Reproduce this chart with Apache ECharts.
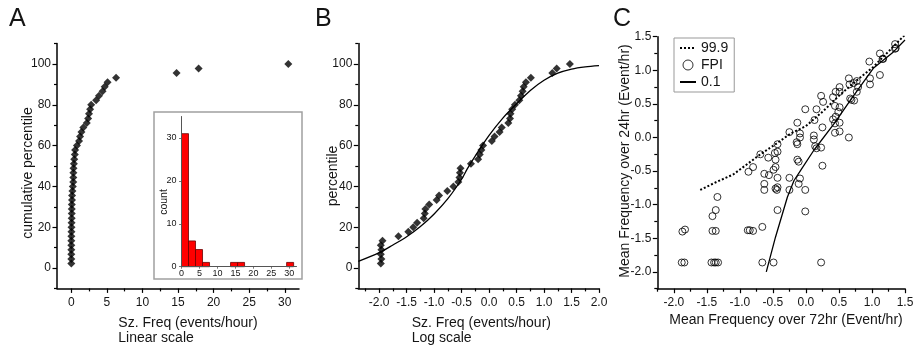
<!DOCTYPE html>
<html><head><meta charset="utf-8">
<script src="https://cdn.jsdelivr.net/npm/echarts@6/dist/echarts.min.js"></script>
<style>html,body{margin:0;padding:0;background:#fff}#c{width:917px;height:350px}</style>
</head><body><div id="c"></div>
<script>
// ---------- Panel A: cumulative percentile vs frequency (linear) ----------
const aFreq = [0.01,0.01,0.01,0.01,0.01,0.01,0.02,0.03,0.04,0.05,0.06,0.07,0.07,0.08,0.11,0.12,0.17,0.22,0.28,0.29,0.30,0.32,0.37,0.42,0.50,0.55,0.80,1.10,1.24,1.43,1.70,2.18,2.37,2.50,2.65,2.80,3.50,3.90,4.40,4.70,5.10,6.30,14.8,17.9,30.5];
const aPct  = [2.2,4.4,6.7,8.9,11.1,13.3,15.6,17.8,20.0,22.2,24.4,26.7,28.9,31.1,33.3,35.6,37.8,40.0,42.2,44.4,46.7,48.9,51.1,53.3,55.6,57.8,60.0,62.2,64.4,66.7,68.9,71.1,73.3,75.6,77.8,80.0,82.2,84.4,86.7,88.9,91.1,93.3,95.6,97.8,100.0];
// inset histogram
const binStart = [0,1.95,3.9,5.85,13.65,15.6,29.25];
const binEnd   = [1.95,3.9,5.85,7.8,15.6,17.55,31.2];
const binCount = [31,6,4,1,1,1,1];
// ---------- Panel B: percentile vs log frequency ----------
const bLogFreq = [-1.97,-1.96,-1.97,-1.96,-1.97,-1.94,-1.65,-1.47,-1.38,-1.31,-1.19,-1.17,-1.16,-1.09,-0.955,-0.91,-0.76,-0.65,-0.56,-0.54,-0.53,-0.52,-0.33,-0.20,-0.17,-0.14,-0.11,0.05,0.10,0.19,0.23,0.35,0.38,0.39,0.42,0.47,0.55,0.58,0.61,0.63,0.67,0.76,1.15,1.23,1.47];
const bPct = aPct;
const bCurveX = [-2.38,-2.0,-1.75,-1.5,-1.25,-1.0,-0.75,-0.5,-0.4,-0.25,0.0,0.25,0.5,0.75,1.0,1.25,1.5,1.75,2.0];
const bCurveY = [3.2,7.5,11.3,15.3,20.3,26.5,34.0,43.5,48.5,55.0,65.0,73.5,80.5,87.0,92.0,95.5,97.5,98.6,99.2];
// ---------- Panel C: 24 h vs 72 h mean frequency (log) ----------
const cFpiX = [-1.88,-1.84,-1.43,-1.39,-1.365,-1.33,-0.66,-0.49,0.23,
  -1.87,-1.83,-1.415,-1.365,-0.88,-0.85,-0.80,-0.66,
  -1.415,-1.365,-1.34,-0.43,-0.01,
  -0.87,-0.80,-0.69,-0.57,-0.63,-0.63,-0.63,-0.56,-0.49,-0.46,-0.46,-0.43,-0.43,-0.43,-0.46,-0.43,-0.44,-0.47,
  -0.25,-0.25,-0.13,-0.11,-0.09,-0.11,-0.01,
  -0.14,-0.13,-0.09,-0.09,-0.25,-0.13,-0.01,
  0.12,0.12,0.13,0.16,0.16,0.14,0.23,0.25,0.23,0.26,0.25,
  0.41,0.45,0.51,0.51,0.44,0.51,0.49,0.45,0.41,0.44,0.51,0.44,0.51,
  0.65,0.65,0.66,0.67,0.69,0.73,0.72,0.77,0.79,0.77,
  0.96,0.97,0.97,1.12,1.12,1.17,1.16,1.35,1.35,1.36];
const cFpiY = [-1.86,-1.86,-1.86,-1.86,-1.86,-1.86,-1.86,-1.86,-1.86,
  -1.40,-1.37,-1.39,-1.39,-1.38,-1.38,-1.39,-1.33,
  -1.17,-1.08,-0.885,-1.08,-1.10,
  -0.51,-0.44,-0.25,-0.30,-0.54,-0.69,-0.78,-0.56,-0.48,-0.44,-0.33,-0.21,-0.10,-0.60,-0.76,-0.74,-0.78,-0.23,
  -0.60,-0.78,-0.33,-0.36,-0.61,-0.69,-0.78,
  -0.07,-0.10,0.0,0.06,0.08,0.22,0.42,
  0.03,-0.03,0.26,0.42,-0.16,-0.13,-0.15,-0.42,0.62,0.53,0.15,
  0.60,0.68,0.75,0.68,0.47,0.45,0.38,0.31,0.27,0.21,0.22,0.07,0.09,
  0.0,0.88,0.79,0.58,0.56,0.55,0.81,0.84,0.75,0.68,
  1.13,0.88,0.79,1.25,0.93,1.17,1.17,1.39,1.32,1.33];
const c999X = [-1.6,-1.35,-1.1,-0.88,-0.69,-0.46,-0.23,0.0,0.27,0.51,0.77,1.02,1.32,1.5];
const c999Y = [-0.78,-0.66,-0.55,-0.39,-0.25,-0.10,0.06,0.17,0.40,0.63,0.85,1.05,1.35,1.53];
const c01X = [-0.6,-0.46,-0.28,-0.18,-0.08,0.12,0.43,0.69,1.02,1.32,1.5];
const c01Y = [-2.0,-1.48,-0.885,-0.64,-0.49,-0.19,0.21,0.58,1.03,1.27,1.45];
// tick labels
const aXLabels = [0,5,10,15,20,25,30];
const pctLabels = [0,20,40,60,80,100];
const logLabelsB = [-2.0,-1.5,-1.0,-0.5,0.0,0.5,1.0,1.5,2.0];
const logLabelsC = [-2.0,-1.5,-1.0,-0.5,0.0,0.5,1.0,1.5];
const insetXLabels = [0,5,10,15,20,25,30];
const insetYLabels = [0,10,20,30];

const FONT = '"Liberation Sans", Arial, Helvetica, sans-serif';
const TXT = '#151515';

function axis(o) {
  return {
    type: 'value', gridIndex: o.grid, min: o.min, max: o.max, position: o.pos,
    axisLine: {show: o.line !== false, onZero: false, lineStyle: {color: o.lc || '#000', width: o.lw || 1.5}},
    axisTick: {show: true, inside: false, length: o.tl || 4.5, customValues: o.ticks,
      lineStyle: {color: o.lc || '#000', width: o.tw || 1.2}},
    axisLabel: {show: !!o.labels, customValues: o.labels, formatter: o.fmt, margin: o.margin || 6,
      fontSize: o.fs || 12, fontFamily: FONT, color: TXT},
    splitLine: {show: false}, z: o.z || 0
  };
}
const fmt1 = v => Number(v).toFixed(1);
const fmt0 = v => String(Math.round(v));
function range(a, b, s) { const r = []; for (let v = a; v <= b + 1e-9; v += s) r.push(+v.toFixed(4)); return r; }

const xAxes = [
  axis({grid:0, min:-2, max:32, pos:'bottom', ticks:aXLabels, labels:aXLabels, fmt:fmt0, margin:8}),
  axis({grid:0, min:-2, max:32, pos:'bottom', line:false, ticks:range(2.5,27.5,5), tl:3}),
  axis({grid:1, min:0, max:32, pos:'bottom', lc:'#555', lw:1, tw:0.8, tl:2, ticks:insetXLabels, labels:insetXLabels, fmt:fmt0, margin:2, fs:9, z:5}),
  axis({grid:2, min:-2.38, max:2.0, pos:'bottom', ticks:logLabelsB, labels:logLabelsB, fmt:fmt1, margin:8}),
  axis({grid:2, min:-2.38, max:2.0, pos:'bottom', line:false, ticks:range(-2.25,1.75,0.5), tl:3}),
  axis({grid:3, min:-2.25, max:1.5, pos:'bottom', ticks:logLabelsC, labels:logLabelsC, fmt:fmt1, margin:8}),
  axis({grid:3, min:-2.25, max:1.5, pos:'bottom', line:false, ticks:range(-2.25,1.25,0.5), tl:3})
];
const yAxes = [
  axis({grid:0, min:-10, max:110, pos:'left', ticks:pctLabels, labels:pctLabels, fmt:fmt0, margin:6}),
  axis({grid:0, min:-10, max:110, pos:'left', line:false, ticks:[-10,10,30,50,70,90,110], tl:3}),
  axis({grid:1, min:0, max:35, pos:'left', lc:'#555', lw:1, tw:0.8, tl:2.5, ticks:insetYLabels, labels:insetYLabels, fmt:fmt0, margin:5, fs:9, z:5}),
  axis({grid:2, min:-10, max:110, pos:'left', ticks:pctLabels, labels:pctLabels, fmt:fmt0, margin:6}),
  axis({grid:2, min:-10, max:110, pos:'left', line:false, ticks:[-10,10,30,50,70,90,110], tl:3}),
  axis({grid:3, min:-2.25, max:1.5, pos:'left', ticks:logLabelsC, labels:logLabelsC, fmt:fmt1, margin:6}),
  axis({grid:3, min:-2.25, max:1.5, pos:'left', line:false, ticks:range(-2.25,1.25,0.5), tl:3})
];

const zip = (a, b) => a.map((v, i) => [v, b[i]]);
const noSym = {color:'rgba(0,0,0,0)', borderColor:'rgba(0,0,0,0)', borderWidth:0, opacity:0};

const option = {
  backgroundColor: '#fff',
  animation: false,
  grid: [
    {left: 57, top: 43.6, width: 242, height: 244.8},
    {left: 181.5, top: 116.5, width: 115, height: 150.2},
    {left: 358.3, top: 43.6, width: 240.7, height: 244.8},
    {left: 657.3, top: 36.7, width: 247.7, height: 252}
  ],
  xAxis: xAxes,
  yAxis: yAxes,
  legend: {
    left: 674, top: 38, orient: 'vertical', borderColor: '#999', borderWidth: 1,
    padding: [3, 6, 3, 5], itemWidth: 16, itemHeight: 10, itemGap: 3,
    textStyle: {fontSize: 14, fontFamily: FONT, color: TXT},
    data: [
      {name:'99.9', itemStyle: noSym},
      {name:'FPI', itemStyle: {color:'rgba(255,255,255,0)', borderColor:'#000', borderWidth:1}},
      {name:'0.1', itemStyle: noSym}
    ]
  },
  graphic: [
    {type:'rect', shape:{x:154, y:112, width:148, height:167}, style:{fill:'rgba(0,0,0,0)', stroke:'#a0a0a0', lineWidth:1.5}, z:1},
    {type:'text', left:9, top:7, style:{text:'A', font:'25px ' + FONT, fill:TXT}},
    {type:'text', left:315, top:7, style:{text:'B', font:'25px ' + FONT, fill:TXT}},
    {type:'text', left:613, top:7, style:{text:'C', font:'25px ' + FONT, fill:TXT}},
    {type:'text', x:28.3, y:173, rotation:Math.PI/2, style:{text:'cumulative percentile', font:'14px ' + FONT, fill:TXT, align:'center', verticalAlign:'middle'}},
    {type:'text', x:164, y:202, rotation:Math.PI/2, style:{text:'count', font:'10.5px ' + FONT, fill:TXT, align:'center', verticalAlign:'middle'}, z:6},
    {type:'text', x:118.3, y:322.7, style:{text:'Sz. Freq (events/hour)', font:'14px ' + FONT, fill:TXT, align:'left', verticalAlign:'middle'}},
    {type:'text', x:118.3, y:337.7, style:{text:'Linear scale', font:'14px ' + FONT, fill:TXT, align:'left', verticalAlign:'middle'}},
    {type:'text', x:333.3, y:176, rotation:Math.PI/2, style:{text:'percentile', font:'14px ' + FONT, fill:TXT, align:'center', verticalAlign:'middle'}},
    {type:'text', x:411.7, y:322.7, style:{text:'Sz. Freq (events/hour)', font:'14px ' + FONT, fill:TXT, align:'left', verticalAlign:'middle'}},
    {type:'text', x:411.7, y:337.7, style:{text:'Log scale', font:'14px ' + FONT, fill:TXT, align:'left', verticalAlign:'middle'}},
    {type:'text', x:625.5, y:161, rotation:Math.PI/2, style:{text:'Mean Frequency over 24hr (Event/hr)', font:'14px ' + FONT, fill:TXT, align:'center', verticalAlign:'middle'}},
    {type:'text', x:786, y:320.5, style:{text:'Mean Frequency over 72hr (Event/hr)', font:'14px ' + FONT, fill:TXT, align:'center', verticalAlign:'middle'}}
  ],
  series: [
    {name:'A', type:'scatter', xAxisIndex:0, yAxisIndex:0, symbol:'diamond', symbolSize:8,
     itemStyle:{color:'#000'}, data: zip(aFreq, aPct), z:3},
    {name:'hist', type:'custom', xAxisIndex:2, yAxisIndex:2, z:4,
     encode:{x:[0,1], y:2},
     renderItem: function (params, api) {
       const p0 = api.coord([api.value(0), api.value(2)]);
       const p1 = api.coord([api.value(1), 0]);
       return {type:'rect', shape:{x:p0[0], y:p0[1], width:p1[0]-p0[0], height:p1[1]-p0[1]},
         style:{fill:'#ff0000', stroke:'#6a0000', lineWidth:0.8}};
     },
     data: binStart.map((s, i) => [s, binEnd[i], binCount[i]])},
    {name:'B', type:'scatter', xAxisIndex:3, yAxisIndex:3, symbol:'diamond', symbolSize:8,
     itemStyle:{color:'#000'}, data: zip(bLogFreq, bPct), z:3},
    {name:'Bfit', type:'line', xAxisIndex:3, yAxisIndex:3, symbol:'none', smooth:0.3,
     lineStyle:{color:'#000', width:1.3}, data: zip(bCurveX, bCurveY), z:2},
    {name:'99.9', type:'line', xAxisIndex:5, yAxisIndex:5, symbol:'none',
     lineStyle:{color:'#000', width:2, type:'dotted'}, itemStyle:{color:'#000'}, data: zip(c999X, c999Y)},
    {name:'FPI', type:'scatter', xAxisIndex:5, yAxisIndex:5, symbol:'circle', symbolSize:7,
     itemStyle:{color:'rgba(255,255,255,0)', borderColor:'#000', borderWidth:1}, data: zip(cFpiX, cFpiY)},
    {name:'0.1', type:'line', xAxisIndex:5, yAxisIndex:5, symbol:'none',
     lineStyle:{color:'#000', width:1.3}, itemStyle:{color:'#000'}, data: zip(c01X, c01Y)}
  ]
};
const chart = echarts.init(document.getElementById('c'), null, {renderer:'canvas'});
chart.setOption(option);
</script></body></html>
